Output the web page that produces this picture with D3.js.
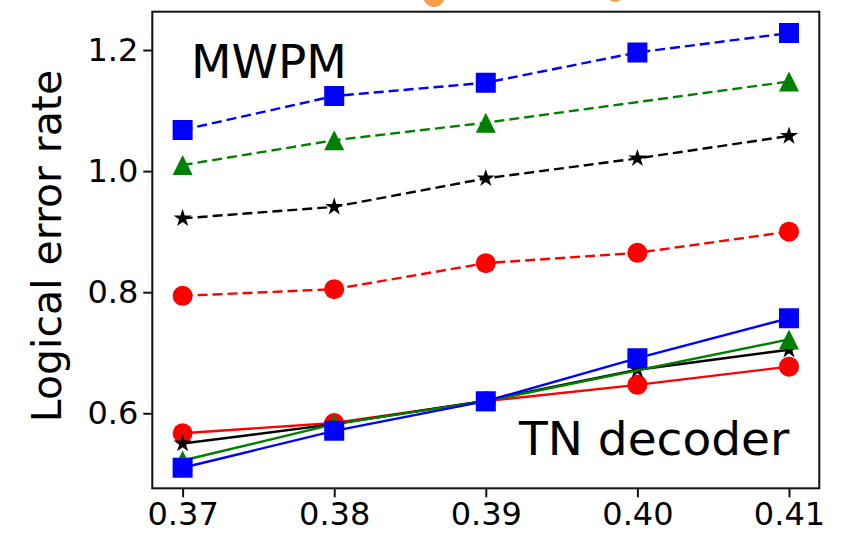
<!DOCTYPE html>
<html>
<head>
<meta charset="utf-8">
<script src="https://cdn.jsdelivr.net/npm/d3@7"></script>
<style>
  html, body { margin: 0; padding: 0; background: #fff; }
  svg { display: block; }
  text { font-family: "DejaVu Sans", sans-serif; fill: #000; }
</style>
</head>
<body>
<svg id="chart" width="853" height="533"></svg>
<script>
// Physical error rates (x values)
const errorRates = [0.37, 0.38, 0.39, 0.40, 0.41];

// MWPM decoder (dashed lines); null = no measurement at that rate
const mwpmBlue  = [1.068, 1.124, 1.146, 1.196, 1.228];
const mwpmGreen = [1.010, 1.051, 1.080, null, 1.148];
const mwpmBlack = [0.922, 0.941, 0.988, 1.021, 1.058];
const mwpmRed   = [0.794, 0.805, 0.848, 0.865, 0.900];

// Tensor-network decoder (solid lines)
const tnBlue  = [0.510, 0.571, 0.620, 0.691, 0.757];
const tnGreen = [0.522, 0.582, 0.620, null, 0.722];
const tnBlack = [0.550, 0.582, 0.621, 0.672, 0.705];
const tnRed   = [0.567, 0.584, 0.620, 0.647, 0.677];

const xTicks = [0.37, 0.38, 0.39, 0.40, 0.41];
const yTicks = [0.6, 0.8, 1.0, 1.2];

const yLabel = "Logical error rate";
const mwpmLabel = "MWPM";
const tnLabel = "TN decoder";

// Marker shapes as d3 symbol types (size = half-width in px)
const squareMarker = { draw(ctx, s) { ctx.rect(-s, -s, 2 * s, 2 * s); } };
const circleMarker = { draw(ctx, s) { ctx.moveTo(s, 0); ctx.arc(0, 0, s, 0, 2 * Math.PI); } };
const triangleMarker = { draw(ctx, s) { ctx.moveTo(0, -s); ctx.lineTo(s, s); ctx.lineTo(-s, s); ctx.closePath(); } };
const starMarker = { draw(ctx, s) {
  const inner = s * 0.381966;
  for (let i = 0; i < 10; i++) {
    const r = i % 2 === 0 ? s : inner;
    const a = -Math.PI / 2 + i * Math.PI / 5;
    const px = r * Math.cos(a), py = r * Math.sin(a);
    if (i === 0) ctx.moveTo(px, py); else ctx.lineTo(px, py);
  }
  ctx.closePath();
} };

// Drawing order: red, black, green, blue (later ones sit on top)
const series = [
  { values: mwpmRed,   color: "#ff0000", marker: circleMarker,   size: 10,  dashed: true },
  { values: mwpmBlack, color: "#000000", marker: starMarker,     size: 9.5, dashed: true },
  { values: mwpmGreen, color: "#008000", marker: triangleMarker, size: 10,  dashed: true },
  { values: mwpmBlue,  color: "#0000ff", marker: squareMarker,   size: 10,  dashed: true },
  { values: tnRed,     color: "#ff0000", marker: circleMarker,   size: 10,  dashed: false },
  { values: tnBlack,   color: "#000000", marker: starMarker,     size: 9.5, dashed: false },
  { values: tnGreen,   color: "#008000", marker: triangleMarker, size: 10,  dashed: false },
  { values: tnBlue,    color: "#0000ff", marker: squareMarker,   size: 10,  dashed: false }
];

const svg = d3.select("#chart");
const plot = { left: 152.3, right: 819.3, top: 11.7, bottom: 488.3 };

const x = d3.scaleLinear().domain([0.368, 0.412]).range([plot.left, plot.right]);
const y = d3.scaleLinear().domain([0.4761, 1.2633]).range([plot.bottom, plot.top]);

// Partially visible legend marks above the axes
svg.append("circle").attr("cx", 434).attr("cy", -4).attr("r", 11).attr("fill", "#f7a04f");
svg.append("circle").attr("cx", 615).attr("cy", -7).attr("r", 9).attr("fill", "#f7a04f");

const clipId = "plot-clip";
svg.append("clipPath").attr("id", clipId)
  .append("rect")
  .attr("x", plot.left).attr("y", plot.top)
  .attr("width", plot.right - plot.left).attr("height", plot.bottom - plot.top);

const g = svg.append("g").attr("clip-path", `url(#${clipId})`);

const line = d3.line().x(d => x(d.x)).y(d => y(d.y));

series.forEach(s => {
  const pts = errorRates.map((r, i) => ({ x: r, y: s.values[i] })).filter(d => d.y !== null);
  g.append("path")
    .datum(pts)
    .attr("d", line)
    .attr("fill", "none")
    .attr("stroke", s.color)
    .attr("stroke-width", 2.4)
    .attr("stroke-dasharray", s.dashed ? "10,5" : null);
  g.selectAll(null)
    .data(pts)
    .join("path")
    .attr("transform", d => `translate(${x(d.x)},${y(d.y)})`)
    .attr("d", d3.symbol().type(s.marker).size(s.size))
    .attr("fill", s.color);
});

// Axes
const xAxis = d3.axisBottom(x).tickValues(xTicks).tickFormat(d3.format(".2f")).tickSize(9).tickPadding(5);
const yAxis = d3.axisLeft(y).tickValues(yTicks).tickFormat(d3.format(".1f")).tickSize(9).tickPadding(5);

const gx = svg.append("g").attr("transform", `translate(0,${plot.bottom})`).call(xAxis);
const gy = svg.append("g").attr("transform", `translate(${plot.left},0)`).call(yAxis);
[gx, gy].forEach(a => {
  a.select(".domain").remove();
  a.selectAll(".tick line").attr("stroke", "#111").attr("stroke-width", 2);
  a.selectAll(".tick text").attr("font-size", 32).attr("font-family", "DejaVu Sans").attr("fill", "#000");
});

// Frame
svg.append("rect")
  .attr("x", plot.left).attr("y", plot.top)
  .attr("width", plot.right - plot.left).attr("height", plot.bottom - plot.top)
  .attr("fill", "none").attr("stroke", "#111").attr("stroke-width", 2);

// Labels
svg.append("text")
  .attr("transform", `translate(61,${(plot.top + plot.bottom) / 2 - 4}) rotate(-90)`)
  .attr("text-anchor", "middle")
  .attr("font-size", 41)
  .text(yLabel);

svg.append("text").attr("x", 191).attr("y", 78).attr("font-size", 47).text(mwpmLabel);
svg.append("text").attr("x", 519).attr("y", 455).attr("font-size", 47).text(tnLabel);
</script>
</body>
</html>
